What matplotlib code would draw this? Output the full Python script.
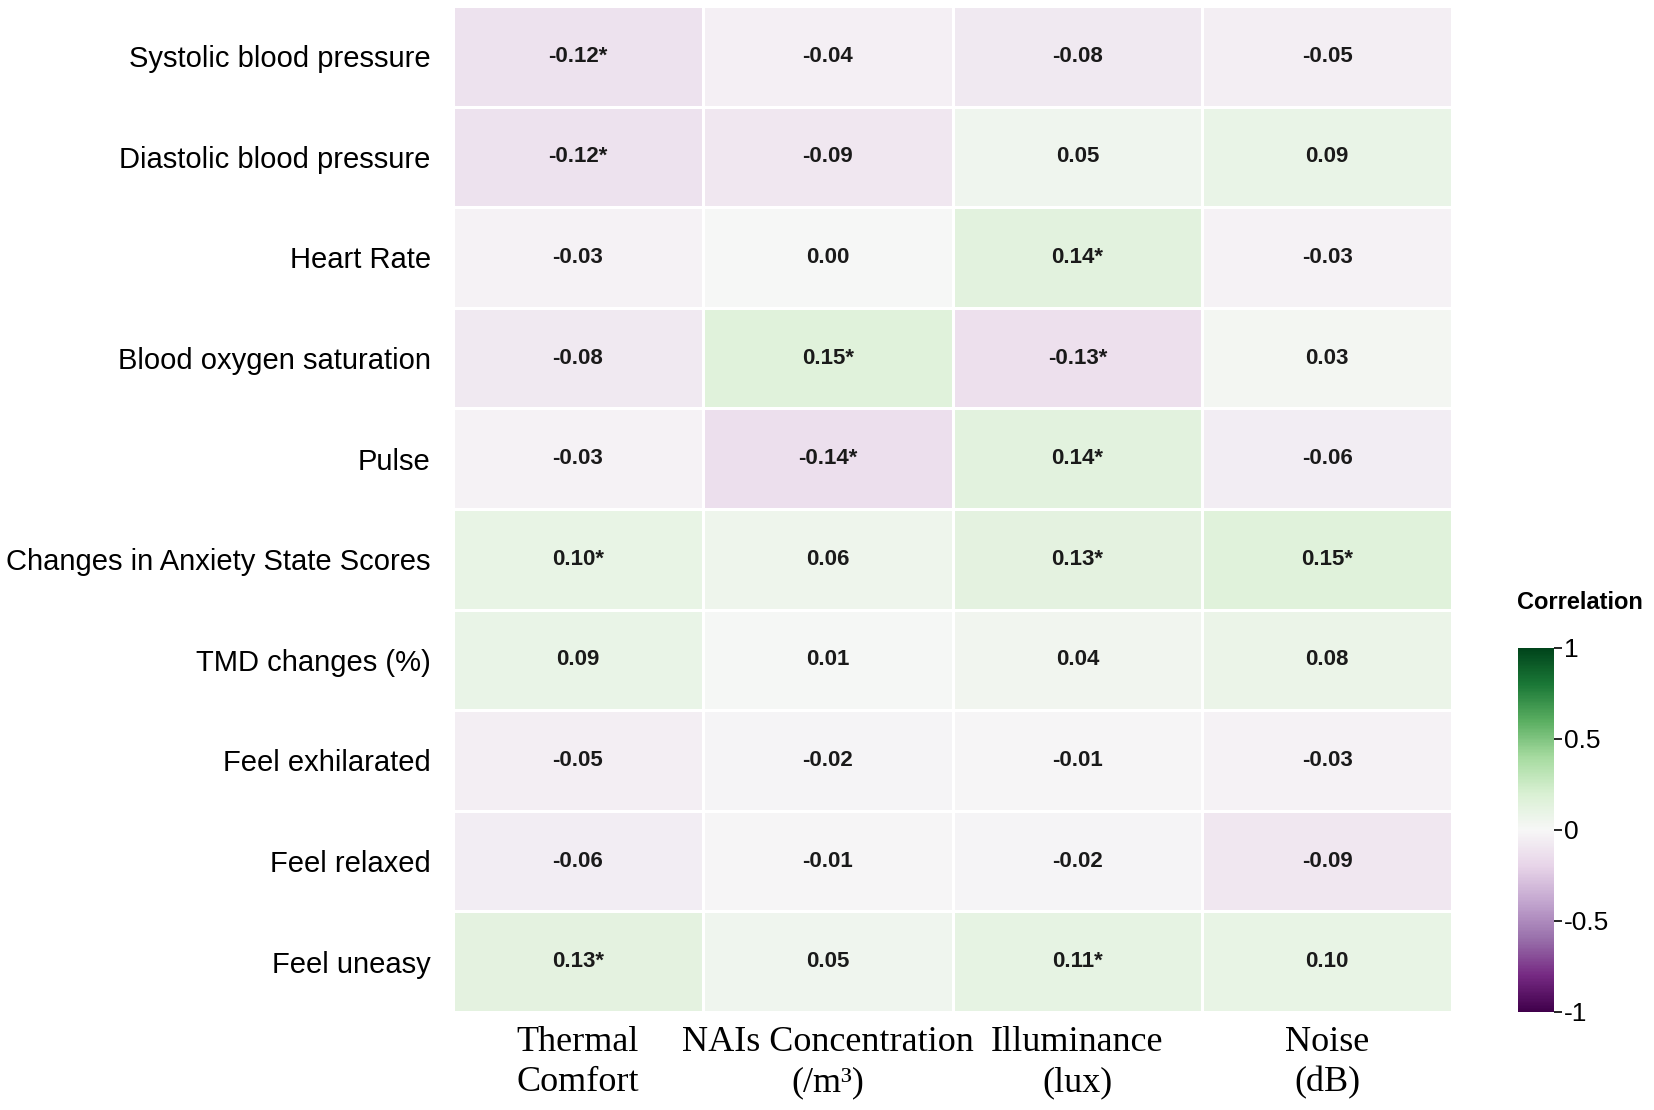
import numpy as np
import matplotlib
matplotlib.use("Agg")
import matplotlib.pyplot as plt
from matplotlib.colors import Normalize

rows = ["Systolic blood pressure", "Diastolic blood pressure", "Heart Rate",
        "Blood oxygen saturation", "Pulse", "Changes in Anxiety State Scores",
        "TMD changes (%)", "Feel exhilarated", "Feel relaxed", "Feel uneasy"]
cols = ["Thermal\nComfort", "NAIs Concentration\n(/m³)", "Illuminance\n(lux)", "Noise\n(dB)"]

thermal = [-0.12, -0.12, -0.03, -0.08, -0.03, 0.10, 0.09, -0.05, -0.06, 0.13]
nais = [-0.04, -0.09, 0.00, 0.15, -0.14, 0.06, 0.01, -0.02, -0.01, 0.05]
illum = [-0.08, 0.05, 0.14, -0.13, 0.14, 0.13, 0.04, -0.01, -0.02, 0.11]
noise = [-0.05, 0.09, -0.03, 0.03, -0.06, 0.15, 0.08, -0.03, -0.09, 0.10]

sig_thermal = [1, 1, 0, 0, 0, 1, 0, 0, 0, 1]
sig_nais = [0, 0, 0, 1, 1, 0, 0, 0, 0, 0]
sig_illum = [0, 0, 1, 1, 1, 1, 0, 0, 0, 1]
sig_noise = [0, 0, 0, 0, 0, 1, 0, 0, 0, 0]

cbar_ticks = [1, 0.5, 0, -0.5, -1]
cbar_labels = ["1", "0.5", "0", "-0.5", "-1"]

data = np.array([thermal, nais, illum, noise]).T
sig = np.array([sig_thermal, sig_nais, sig_illum, sig_noise]).T

fig = plt.figure(figsize=(16.54, 11.10), dpi=100)
ax = fig.add_axes([0.2739, 0.0883, 0.604, 0.9063])
cmap = plt.get_cmap("PRGn")
norm = Normalize(vmin=-1, vmax=1)
nr, nc = data.shape
mesh = ax.pcolormesh(np.arange(nc + 1), np.arange(nr + 1), data, cmap=cmap, norm=norm,
                     edgecolor="white", linewidth=2)
ax.set_xlim(0, nc)
ax.set_ylim(nr, 0)
for i in range(nr):
    for j in range(nc):
        txt = f"{data[i, j]:.2f}" + ("*" if sig[i, j] else "")
        ax.text(j + 0.5, i + 0.5, txt, ha="center", va="center", fontsize=16,
                fontweight="bold", color="#1a1a1a", family="Liberation Sans")
ax.set_xticks(np.arange(nc) + 0.5)
ax.set_xticklabels(cols, fontsize=26, family="Liberation Serif", linespacing=1.3)
ax.set_yticks(np.arange(nr) + 0.5)
ax.set_yticklabels(rows, fontsize=21, family="Liberation Sans")
ax.tick_params(length=0)
ax.tick_params(axis="y", pad=16)
ax.tick_params(axis="x", pad=10)
for s in ax.spines.values():
    s.set_visible(False)

cax = fig.add_axes([0.9178, 0.0883, 0.0218, 0.328])
cb = fig.colorbar(mesh, cax=cax)
cb.outline.set_visible(False)
cb.set_ticks(cbar_ticks)
cb.set_ticklabels(cbar_labels)
cax.tick_params(labelsize=19, length=6, width=1.2, pad=1)
for t in cax.get_yticklabels():
    t.set_family("Liberation Sans")
fig.text(0.9555, 0.4575, "Correlation", ha="center", va="center", fontsize=17,
         fontweight="bold", family="Liberation Sans")

fig.savefig("out.png", dpi=100)
